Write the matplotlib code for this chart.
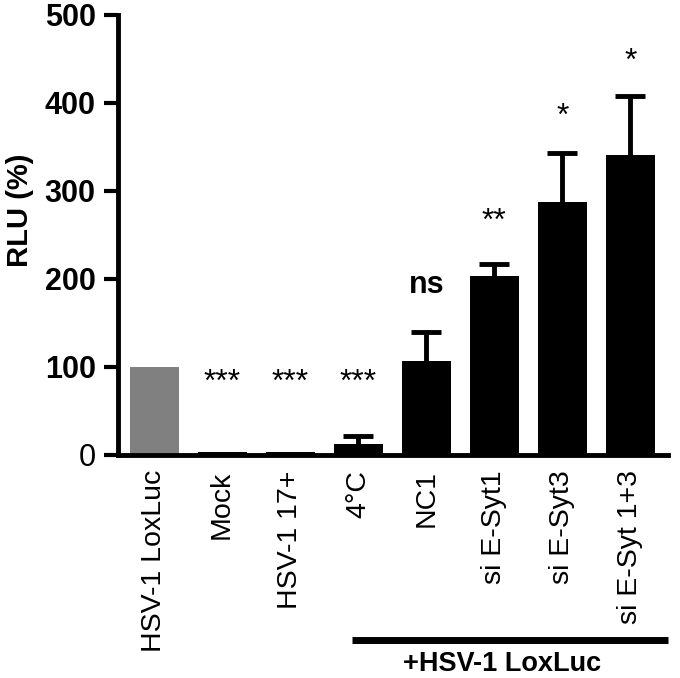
import matplotlib
matplotlib.use("Agg")
import matplotlib.pyplot as plt

plt.rcParams['font.family'] = ['Liberation Sans', 'DejaVu Sans']

categories = ["HSV-1 LoxLuc", "Mock", "HSV-1 17+", "4°C", "NC1",
              "si E-Syt1", "si E-Syt3", "si E-Syt 1+3"]
values = [100, 3, 3, 12, 107, 203, 287, 341]
errors = [0, 0, 0, 10, 33, 14, 56, 67]
colors = ["#808080"] + ["black"] * 7
sig_labels = ["", "***", "***", "***", "ns", "**", "*", "*"]
sig_y = [0, 82, 82, 82, 193, 265, 384, 447]
yticks = [0, 100, 200, 300, 400, 500]

fig = plt.figure(figsize=(6.8, 6.78), dpi=100)
ax = fig.add_axes([0.1735, 0.329, 0.8085, 0.649])

x = list(range(len(categories)))
ax.bar(x, values, width=0.72, color=colors, edgecolor='none', zorder=2)
for xi, v, e in zip(x, values, errors):
    if e > 0:
        ax.errorbar(xi, v - 2, yerr=[[0], [e + 2]], fmt='none', ecolor='black',
                    elinewidth=3.5, capsize=11, capthick=3.5, zorder=1)

for xi, s, sy in zip(x, sig_labels, sig_y):
    if not s:
        continue
    if s == "ns":
        ax.text(xi, sy, s, ha='center', va='center', fontsize=22, fontweight='bold')
    else:
        ax.text(xi, sy, s, ha='center', va='center', fontsize=23)

ax.set_xlim(-0.53, 7.55)
ax.set_ylim(0, 500)
ax.set_yticks(yticks)
labels = ax.set_yticklabels([str(t) for t in yticks], fontsize=22)
for lab, t in zip(labels, yticks):
    lab.set_fontweight('normal' if t == 0 else 'bold')
ax.set_xticks(x)
ax.set_xticklabels(categories, rotation=90, fontsize=20.5)
ax.tick_params(axis='x', length=0, pad=11)
ax.tick_params(axis='y', length=10, width=3, pad=6)
ax.set_ylabel("RLU (%)", fontsize=21, fontweight='bold')
ax.yaxis.set_label_coords(-0.152, 0.555)

for side in ['top', 'right']:
    ax.spines[side].set_visible(False)
for side in ['left', 'bottom']:
    ax.spines[side].set_linewidth(3.5)

ax.plot([2.91, 7.55], [-210, -210], color='black', linewidth=5,
        clip_on=False, solid_capstyle='butt')
ax.text(5.11, -238, "+HSV-1 LoxLuc", ha='center', va='center',
        fontsize=19.5, fontweight='bold')

fig.savefig("out.png", dpi=100)
